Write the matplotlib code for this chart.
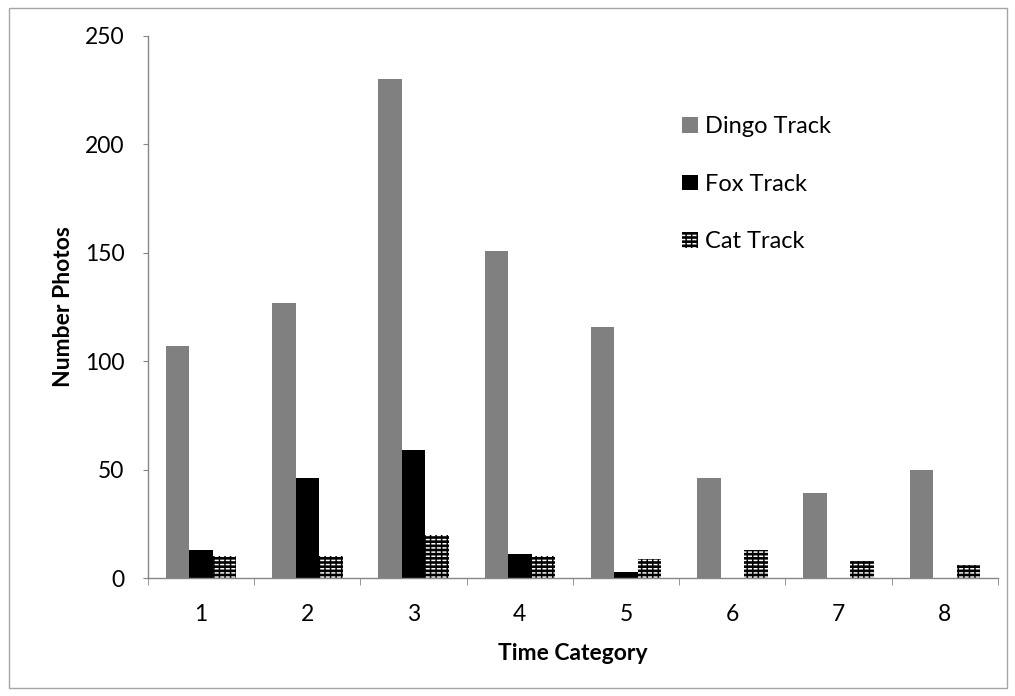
import matplotlib
matplotlib.use('Agg')
import matplotlib.pyplot as plt
import numpy as np
from matplotlib.patches import Rectangle
from matplotlib.ticker import FixedLocator

# photo counts per time category
categorias = ['1', '2', '3', '4', '5', '6', '7', '8']
dingo = [107, 127, 230, 151, 116, 46, 39, 50]
zorro = [13, 46, 59, 11, 3, 0, 0, 0]
gato = [10, 10, 20, 10, 9, 13, 8, 6]

plt.rcParams['font.family'] = ['Lato', 'DejaVu Sans']
plt.rcParams['hatch.linewidth'] = 1.1

def generar_grafico():
    fig = plt.figure(figsize=(10.15, 6.96), dpi=100)
    ax = fig.add_axes([0.1458, 0.1695, 0.8374, 0.7788])

    x = np.arange(len(categorias))
    ancho = 0.221

    ax.bar(x - ancho, dingo, ancho, color='#808080', label='Dingo Track')
    ax.bar(x, zorro, ancho, color='black', label='Fox Track')
    # cat bars: black fill with white dashes (horizontal lines broken by black verticals)
    fondo = ax.bar(x + ancho, gato, ancho, facecolor='black', edgecolor='white',
                   linewidth=0, hatch='----')
    rejilla = ax.bar(x + ancho, gato, ancho, facecolor='none', edgecolor='black',
                     linewidth=0, hatch='|||')

    ax.set_xlim(-0.5, len(categorias) - 0.5)
    ax.set_ylim(0, 250)
    ax.set_yticks([0, 50, 100, 150, 200, 250])
    ax.set_xticks(x)
    ax.set_xticklabels(categorias)
    ax.xaxis.set_minor_locator(FixedLocator(np.arange(len(categorias) + 1) - 0.5))

    for lado in ['top', 'right']:
        ax.spines[lado].set_visible(False)
    for lado in ['left', 'bottom']:
        ax.spines[lado].set_color('#868686')
        ax.spines[lado].set_linewidth(1.0)

    ax.tick_params(axis='x', which='major', length=0, pad=19, labelsize=16.5)
    ax.tick_params(axis='x', which='minor', length=5, direction='out', color='#868686')
    ax.tick_params(axis='y', length=3.6, color='#868686', pad=13.5, labelsize=16.5)

    ax.set_xlabel('Time Category', fontsize=16.5, fontweight='bold', labelpad=13)
    ax.set_ylabel('Number Photos', fontsize=16.5, fontweight='bold', labelpad=8)

    handles, labels = ax.get_legend_handles_labels()
    handles.append((fondo, rejilla))
    labels.append('Cat Track')
    fig.legend(handles, labels, loc='upper left', bbox_to_anchor=(0.672, 0.833),
               bbox_transform=fig.transFigure, frameon=False, fontsize=17,
               handlelength=0.66, handleheight=0.66, handletextpad=0.3,
               labelspacing=1.55, borderpad=0, borderaxespad=0)

    # grey border around the chart area
    fig.patches.append(Rectangle((9 / 1015, 8 / 696), 998 / 1015, 680 / 696,
                                 transform=fig.transFigure, fill=False,
                                 edgecolor='#a6a6a6', linewidth=1.0))

    plt.savefig('out.png', dpi=100)


if __name__ == '__main__':
    generar_grafico()
